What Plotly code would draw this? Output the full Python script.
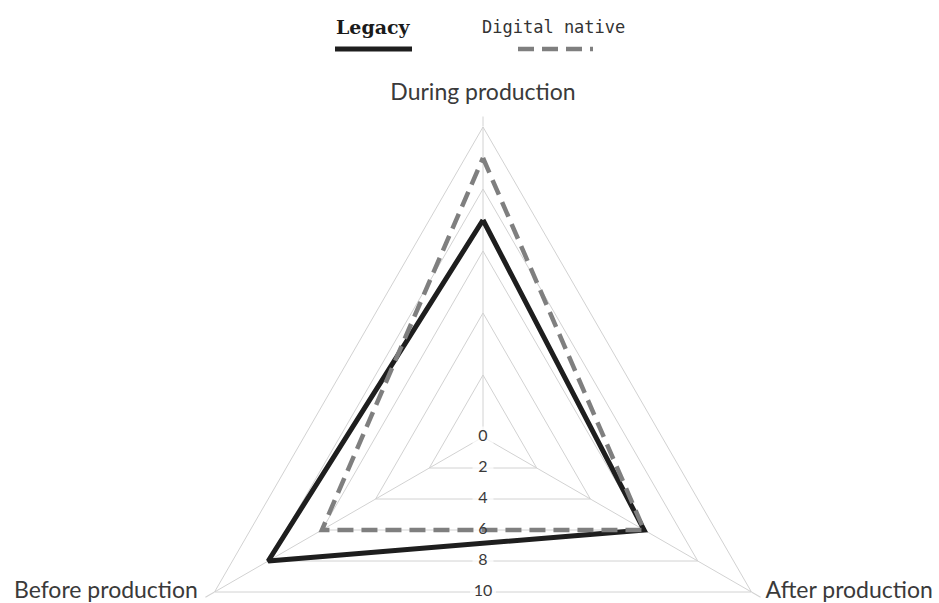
import math
import plotly.graph_objects as go

# ---- data -------------------------------------------------------------
categories = ["During production", "After production", "Before production"]
legacy = [7, 6, 8]
digital_native = [9, 6, 6]
series_names = ["Legacy", "Digital native"]
radial_ticks = [0, 2, 4, 6, 8, 10]
radial_max = 10

# ---- geometry / style -------------------------------------------------
W, H = 939, 760
MARGIN = dict(l=173, r=146, t=127, b=13)

GRID = "#d2d2d2"
LABEL = "#3a3a3a"
LEGACY_COLOR = "#1e1e1e"
NATIVE_COLOR = "#7f7f7f"
NATIVE_DASH = "16px,8px"

n = len(categories)
theta_deg = [i * 360 / n for i in range(n)]


def closed(seq):
    return list(seq) + [seq[0]]


def to_paper(px, py):
    pw = W - MARGIN["l"] - MARGIN["r"]
    ph = H - MARGIN["t"] - MARGIN["b"]
    return (px - MARGIN["l"]) / pw, 1 - (py - MARGIN["t"]) / ph


def outer_position(deg):
    """Text position for a category name placed at its spoke tip
    (angles measured clockwise from the top)."""
    x = math.sin(math.radians(deg))
    if abs(x) < 0.2:
        return "top center" if math.cos(math.radians(deg)) > 0 else "bottom center"
    return "middle right" if x > 0 else "middle left"


fig = go.Figure()

# base subplot: category axis that carries the triangular grid
fig.add_trace(go.Scatterpolar(
    r=[0] * n, theta=categories, mode="markers",
    marker=dict(opacity=0), hoverinfo="skip", showlegend=False,
    subplot="polar",
))

# radial value labels sit where each triangular ring crosses the
# downward direction (ring inradius = r * cos(pi / n))
down = 180
ring_r = [t * math.cos(math.pi / n) for t in radial_ticks]
tick_text = [str(t) for t in radial_ticks]

# white boxes that break the grid lines behind the value labels
fig.add_trace(go.Scatterpolar(
    r=ring_r, theta=[down] * len(ring_r), mode="markers",
    marker=dict(symbol="square", size=[16 + 5 * len(s) for s in tick_text],
                color="white", line=dict(width=0)),
    hoverinfo="skip", showlegend=False, subplot="polar2",
))

series = [
    (series_names[0], legacy, dict(color=LEGACY_COLOR, width=5)),
    (series_names[1], digital_native, dict(color=NATIVE_COLOR, width=4.5, dash=NATIVE_DASH)),
]
for name, vals, line in series:
    fig.add_trace(go.Scatterpolar(
        r=closed(vals), theta=closed(theta_deg), mode="lines",
        line=line, name=name, showlegend=False, subplot="polar2",
    ))

fig.add_trace(go.Scatterpolar(
    r=ring_r, theta=[down] * len(ring_r), mode="text", text=tick_text,
    textposition="middle center",
    textfont=dict(family="Lato", size=16, color=LABEL),
    hoverinfo="skip", showlegend=False, subplot="polar2",
))

# category names at the spoke tips
fig.add_trace(go.Scatterpolar(
    r=[radial_max] * n, theta=theta_deg, mode="markers+text", text=categories,
    textposition=[outer_position(d) for d in theta_deg],
    marker=dict(size=[33, 21, 25], opacity=0),
    textfont=dict(family="Lato", size=23, color=LABEL),
    cliponaxis=False, hoverinfo="skip", showlegend=False, subplot="polar2",
))

fig.update_layout(
    width=W, height=H, margin=MARGIN,
    paper_bgcolor="white", plot_bgcolor="white", showlegend=False,
    polar=dict(
        domain=dict(x=[0, 1], y=[0, 1]),
        gridshape="linear",
        bgcolor="white",
        angularaxis=dict(
            type="category", categoryarray=categories,
            rotation=90, direction="clockwise",
            showline=True, linecolor=GRID, linewidth=1,
            showgrid=True, gridcolor=GRID, gridwidth=1,
            ticks="outside", ticklen=10, tickcolor=GRID, tickwidth=1,
            showticklabels=False,
        ),
        radialaxis=dict(
            range=[0, radial_max], tickvals=radial_ticks,
            showticklabels=False, ticks="", showline=False,
            showgrid=True, gridcolor=GRID, gridwidth=1,
        ),
    ),
    polar2=dict(
        domain=dict(x=[0, 1], y=[0, 1]),
        bgcolor="rgba(0,0,0,0)",
        angularaxis=dict(type="linear", rotation=90, direction="clockwise",
                         visible=False, showgrid=False, showline=False,
                         showticklabels=False, ticks=""),
        radialaxis=dict(range=[0, radial_max], visible=False, showgrid=False,
                        showline=False, showticklabels=False, ticks=""),
    ),
)

# ---- legend: name above a line sample --------------------------------
legend_items = [
    dict(name=series_names[0], cx=373, x0=335, x1=412,
         font=dict(family="DejaVu Serif", size=19, color="#1a1a1a", weight="bold"),
         line=dict(color=LEGACY_COLOR, width=5)),
    dict(name=series_names[1], cx=553, x0=518, x1=593,
         font=dict(family="DejaVu Sans Mono", size=17, color="#333333"),
         line=dict(color=NATIVE_COLOR, width=4.5, dash=NATIVE_DASH)),
]
for item in legend_items:
    tx, ty = to_paper(item["cx"], 27)
    fig.add_annotation(x=tx, y=ty, xref="paper", yref="paper",
                       text=item["name"], showarrow=False,
                       xanchor="center", yanchor="middle", font=item["font"])
    lx0, ly = to_paper(item["x0"], 49)
    lx1, _ = to_paper(item["x1"], 49)
    fig.add_shape(type="line", xref="paper", yref="paper",
                  x0=lx0, x1=lx1, y0=ly, y1=ly, line=item["line"])

fig.write_html("out.html")
